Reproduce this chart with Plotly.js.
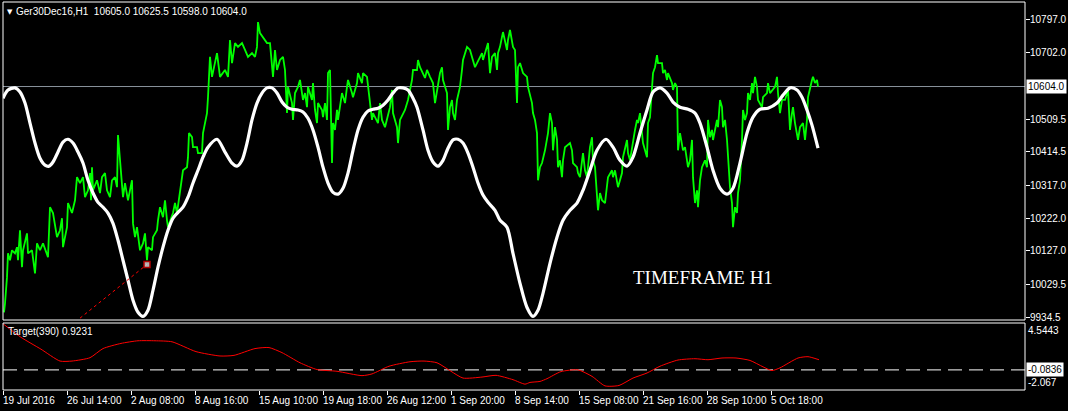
<!DOCTYPE html>
<html><head><meta charset="utf-8">
<script src="https://cdn.plot.ly/plotly-3.0.1.min.js"></script>
<style>html,body{margin:0;padding:0;background:#000;overflow:hidden}#chart{width:1068px;height:411px}</style>
</head><body><div id="chart"></div>
<script>
// ---- data ----
const symbolLabel = 'Ger30Dec16,H1';
const ohlcValues = ['10605.0', '10625.5', '10598.0', '10604.0'];
const lastPrice = 10604.0;
const priceTicks = [10797.0, 10702.0, 10509.5, 10414.5, 10317.0, 10222.0, 10127.0, 10029.5, 9934.5];
const dateTickBars = [0, 64, 128, 192, 256, 320, 384, 448, 512, 576, 640, 704, 768];
const dateTickText = ['19 Jul 2016', '26 Jul 14:00', '2 Aug 08:00', '8 Aug 16:00', '15 Aug 10:00', '19 Aug 18:00',
  '26 Aug 12:00', '1 Sep 20:00', '8 Sep 14:00', '15 Sep 08:00', '21 Sep 16:00', '28 Sep 10:00', '5 Oct 18:00'];

// price (green) sampled along the bars
const greenBar = [
  1,2,4,5,7,9,12,14,15,17,
  19,20,24,25,29,30,32,34,37,40,
  44,45,47,50,54,57,59,60,64,65,
  69,72,74,77,80,82,85,87,88,89,
  90,94,97,99,102,104,107,109,112,114,
  115,117,119,120,122,125,129,130,132,134,
  137,140,142,144,145,149,150,154,155,157,
  160,162,164,165,170,172,174,177,179,180,
  184,185,186,189,190,194,195,199,200,204,
  205,206,
  207,209,214,217,222,225,227,229,232,235,
  239,242,245,249,252,254,255,257,260,264,
  267,269,270,272,274,277,280,282,284,285,
  289,290,292,295,297,300,302,304,305,309,
  310,312,314,315,319,320,322,324,325,327,
  329,330,332,334,335,339,342,344,345,349,
  350,354,355,359,360,364,365,367,369,370,
  372,375,377,379,382,385,387,389,390,394,
  395,397,400,402,405,407,
  409,410,414,415,417,422,424,427,430,432,
  434,437,439,440,444,445,447,449,450,452,
  454,457,459,460,464,467,469,472,474,479,
  480,485,487,489,492,494,495,497,499,500,
  504,505,507,510,512,514,515,517,520,524,
  525,529,530,532,534,535,537,539,542,544,
  545,547,549,550,552,554,555,557,559,560,
  562,567,569,570,574,575,577,580,582,584,
  587,589,590,592,594,595,597,599,602,604,
  605,609,610,
  612,615,619,620,624,625,627,630,632,634,
  635,637,639,640,644,645,647,649,650,652,
  654,655,659,660,662,664,665,669,670,672,
  674,675,677,680,682,684,685,687,689,690,
  692,694,695,697,699,702,704,705,707,709,
  710,714,715,717,719,720,722,724,725,727,
  729,730,732,734,735,737,739,740,742,744,
  745,747,749,750,752,754,755,759,760,764,
  765,767,772,774,775,777,779,782,785,787,
  789,790,792,795,797,800,802,804,805,807,
  809,810,812,814,815
];
const greenPrice = [
  9949,9975,10051,10120,10100,10129,10120,10138,10100,10187,
  10080,10129,10178,10120,10129,10100,10062,10149,10129,10149,
  10120,10109,10254,10237,10167,10187,10222,10138,10196,10266,
  10237,10274,10341,10324,10341,10283,10303,10353,10274,10370,
  10303,10332,10295,10341,10353,10303,10283,10332,10341,10312,
  10463,10390,10341,10283,10324,10274,10332,10207,10167,10196,
  10129,10149,10178,10100,10138,10129,10167,10187,10216,10254,
  10225,10274,10216,10196,10237,10266,10237,10303,10341,10361,
  10370,10399,10469,10457,10428,10428,10411,10411,10469,10527,
  10573,10643,
  10690,10632,10701,10632,10652,10632,10739,10672,10730,10719,
  10730,10710,10690,10701,10690,10719,10791,10759,10748,10730,
  10730,10672,10632,10710,10652,10681,10690,10652,10527,10603,
  10556,10507,10585,10603,10623,10565,10585,10544,10603,10565,
  10614,10536,10498,10556,10536,10515,10556,10507,10643,10652,
  10382,10498,10478,10536,10507,10585,10556,10603,10623,10585,
  10573,10614,10643,10614,10643,10632,10603,10556,10507,10527,
  10515,10498,10556,10507,10486,10527,10544,10594,10527,10486,
  10440,10507,10527,10536,10565,10594,
  10623,10652,10652,10681,10660,10629,10652,10632,10614,10556,
  10594,10643,10660,10623,10585,10478,10544,10565,10527,10507,
  10565,10603,10652,10681,10719,10710,10690,10660,10672,10701,
  10681,10730,10643,10690,10701,10652,10701,10719,10748,10762,
  10710,10739,10768,10719,10710,10556,10660,10672,10643,10632,
  10603,10556,10527,10507,10469,10332,10370,10382,10419,10449,
  10469,10527,10498,10419,10486,10449,10370,10390,10341,10390,
  10428,10440,10419,10382,10370,10353,10341,10411,10361,10341,
  10428,10457,10390,10370,10295,10245,10295,10274,10266,10332,
  10341,10361,10341,
  10361,10312,10353,10399,10449,10411,10390,10449,10478,10507,
  10498,10527,10469,10440,10399,10498,10515,10614,10643,10660,
  10695,10672,10672,10643,10652,10623,10643,10614,10594,10614,
  10603,10419,10469,10419,10428,10390,10370,10390,10449,10341,
  10266,10303,10254,10332,10370,10390,10370,10507,10457,10478,
  10449,10507,10486,10565,10544,10486,10507,10449,10399,10312,
  10266,10196,10254,10237,10295,10332,10449,10536,10507,10527,
  10585,10565,10614,10585,10632,10603,10565,10544,10573,10585,
  10614,10585,10603,10632,10585,10527,10565,10565,10594,10478,
  10527,10544,10498,10449,10486,10498,10449,10507,10573,10603,
  10623,10632,10614,10623,10604
];

// white cycle curve
const curveBar = [
  0,5,12,17,22,27,32,37,42,46,50,55,60,65,70,75,80,85,90,95,
  100,105,110,115,120,125,130,135,140,145,150,155,160,165,170,175,180,185,190,195,
  200,205,214,222,229,234,239,244,249,254,259,264,269,274,279,284,289,295,300,305,
  310,315,320,325,330,335,340,345,350,355,360,365,370,375,380,385,390,395,400,405,
  410,414,420,425,430,435,440,445,450,455,460,465,470,475,480,485,492,497,504,510,
  517,524,530,535,540,547,554,560,567,574,580,587,594,603,610,617,624,630,637,644,
  650,657,664,670,677,685,692,697,704,710,717,724,730,737,744,750,757,765,774,780,
  787,794,799,804,809,815
];
const curvePrice = [
  10570,10594,10600,10588,10556,10498,10440,10396,10376,10373,10385,10414,10443,10451,10440,10414,10382,10332,10295,10268,
  10254,10237,10207,10158,10100,10042,9984,9949,9937,9955,10013,10080,10138,10187,10222,10239,10254,10283,10324,10361,
  10399,10428,10451,10414,10382,10373,10390,10440,10507,10556,10585,10600,10600,10585,10559,10544,10538,10536,10530,10512,
  10478,10428,10370,10324,10297,10292,10309,10353,10419,10478,10515,10533,10538,10541,10550,10565,10585,10600,10600,10594,
  10570,10544,10478,10419,10385,10373,10390,10425,10449,10451,10440,10411,10370,10324,10289,10268,10245,10216,10196,10120,
  10033,9963,9937,9955,10004,10091,10167,10216,10245,10266,10303,10361,10419,10451,10428,10390,10373,10399,10469,10536,
  10588,10600,10585,10559,10544,10538,10527,10498,10428,10361,10309,10292,10309,10382,10469,10515,10538,10541,10556,10579,
  10600,10594,10573,10536,10492,10425
];

// Target(390) indicator (red)
const targetLabel = 'Target(390) 0.9231';
const targetLevel = -0.0836;
const targetMax = 4.5443;
const targetMin = -2.067;
const targetBar = [
  0,18,38,57,69,87,100,118,135,152,169,193,217,231,252,266,279,297,314,334,
  359,369,386,407,421,434,448,460,479,493,510,522,527,537,544,558,575,589,602,616,
  630,644,657,675,692,705,719,733,747,760,769,777,795,805,816
];
const targetValue = [
  4.47,3.13,1.96,0.79,0.79,1.12,2.02,2.53,2.79,2.79,2.69,1.72,1.29,1.35,2.02,2.12,1.62,0.62,-0.05,-0.22,
  -0.65,-0.48,0.28,0.72,0.79,0.62,-0.22,-0.89,-0.79,-0.62,-1.05,-1.49,-1.32,-1.22,-0.95,-0.25,-0.08,-0.72,-1.66,-1.62,
  -0.89,-0.39,0.28,0.89,1.02,0.92,1.09,1.09,0.85,0.22,-0.15,0.12,1.09,1.22,0.92
];

// drawn trend line object
const trendBar = [77, 144];
const trendPrice = [9932, 10088];
const noteText = 'TIMEFRAME H1';
const noteBar = 700, notePrice = 10051;

// ---- drawing ----
const narrow = 'Liberation Sans Narrow, Arial Narrow, Liberation Sans, Arial, sans-serif';
const txt = {family: narrow, size: 10, color: '#ffffff'};
const mainDom = [70/388, 1];
const indDom = [0, 67/388];

const traces = [
  {x: greenBar, y: greenPrice, type: 'scatter', mode: 'lines', xaxis: 'x', yaxis: 'y',
   line: {color: '#00ff00', width: 1.8}, hoverinfo: 'skip'},
  {x: curveBar, y: curvePrice, type: 'scatter', mode: 'lines', xaxis: 'x', yaxis: 'y',
   line: {color: '#ffffff', width: 3.2, shape: 'spline', smoothing: 0.8}, hoverinfo: 'skip'},
  {x: trendBar, y: trendPrice, type: 'scatter', mode: 'lines+markers', xaxis: 'x', yaxis: 'y',
   line: {color: '#ff0000', width: 1, dash: 'dot'},
   marker: {symbol: 'square', size: [0, 6], color: '#ffffff', line: {color: '#ff0000', width: 1.5}}, hoverinfo: 'skip'},
  {x: targetBar, y: targetValue, type: 'scatter', mode: 'lines', xaxis: 'x', yaxis: 'y2',
   line: {color: '#ff0000', width: 1, shape: 'spline', smoothing: 0.6}, hoverinfo: 'skip'}
];

const annotations = [
  {xref: 'paper', yref: 'paper', x: 0, y: 1, xanchor: 'left', yanchor: 'top', xshift: 2, yshift: -4,
   text: '\u25BC', showarrow: false, font: {family: 'DejaVu Sans', size: 7, color: '#ffffff'}},
  {xref: 'paper', yref: 'paper', x: 0, y: 1, xanchor: 'left', yanchor: 'top', xshift: 11, yshift: -2,
   text: symbolLabel + '\u00a0\u00a0' + ohlcValues.join(' '), showarrow: false, font: txt},
  {xref: 'paper', yref: 'paper', x: 0, y: indDom[1], xanchor: 'left', yanchor: 'top', xshift: 3, yshift: -1,
   text: targetLabel, showarrow: false, font: txt},
  {xref: 'x', yref: 'y', x: noteBar, y: notePrice, xanchor: 'center', yanchor: 'middle',
   text: noteText, showarrow: false, font: {family: 'Liberation Serif, Times New Roman, serif', size: 19, color: '#ffffff'}},
  {xref: 'paper', yref: 'y', x: 1, y: lastPrice, xanchor: 'left', yanchor: 'middle', xshift: 1,
   text: lastPrice.toFixed(1), showarrow: false, bgcolor: '#ffffff', borderpad: 1,
   font: {family: narrow, size: 10, color: '#000000'}},
  {xref: 'paper', yref: 'y2', x: 1, y: targetMax, xanchor: 'left', yanchor: 'top', xshift: 1,
   text: targetMax.toFixed(4), showarrow: false, font: txt},
  {xref: 'paper', yref: 'y2', x: 1, y: targetLevel, xanchor: 'left', yanchor: 'middle', xshift: 1,
   text: targetLevel.toFixed(4), showarrow: false, bgcolor: '#ffffff', borderpad: 1,
   font: {family: narrow, size: 10, color: '#000000'}},
  {xref: 'paper', yref: 'y2', x: 1, y: targetMin, xanchor: 'left', yanchor: 'bottom', xshift: 1,
   text: targetMin.toFixed(3), showarrow: false, font: txt}
];
dateTickBars.forEach((b, i) => annotations.push({
  xref: 'x', yref: 'paper', x: b, y: 0, xanchor: 'left', yanchor: 'top', xshift: -2, yshift: -3,
  text: dateTickText[i], showarrow: false, font: txt
}));

const layout = {
  width: 1068, height: 411,
  margin: {l: 3, r: 43, t: 2, b: 21, pad: 0},
  paper_bgcolor: '#000000', plot_bgcolor: '#000000',
  showlegend: false,
  xaxis: {range: [0, 1022], anchor: 'y2', showgrid: false, zeroline: false, showline: false,
    tickmode: 'array', tickvals: dateTickBars, showticklabels: false,
    ticks: 'outside', ticklen: 4, tickcolor: '#ffffff', tickwidth: 1},
  yaxis: {domain: mainDom, range: [9926.7, 10849.2], anchor: 'x', side: 'right',
    showgrid: false, zeroline: false, showline: false,
    tickmode: 'array', tickvals: priceTicks, ticktext: priceTicks.map(v => v.toFixed(1)),
    ticks: 'outside', ticklen: 4, tickcolor: '#ffffff', tickfont: txt, ticklabelstandoff: -2},
  yaxis2: {domain: indDom, range: [targetMin, targetMax], anchor: 'x', side: 'right',
    showgrid: false, zeroline: false, showline: false, showticklabels: false, ticks: ''},
  shapes: [
    {type: 'line', xref: 'paper', yref: 'y', x0: 0, x1: 1, y0: lastPrice, y1: lastPrice,
     line: {color: '#8a939c', width: 1}, layer: 'below'},
    {type: 'line', xref: 'paper', yref: 'y2', x0: 0, x1: 1, y0: targetLevel, y1: targetLevel,
     line: {color: '#ffffff', width: 1, dash: '14px,7px'}, layer: 'below'},
    {type: 'rect', xref: 'paper', yref: 'paper', x0: 0, x1: 1, y0: mainDom[0], y1: 1,
     line: {color: '#ffffff', width: 1}},
    {type: 'rect', xref: 'paper', yref: 'paper', x0: 0, x1: 1, y0: indDom[0], y1: indDom[1],
     line: {color: '#ffffff', width: 1}}
  ],
  annotations: annotations
};

Plotly.newPlot('chart', traces, layout, {displayModeBar: false, staticPlot: true});
</script>
</body></html>
